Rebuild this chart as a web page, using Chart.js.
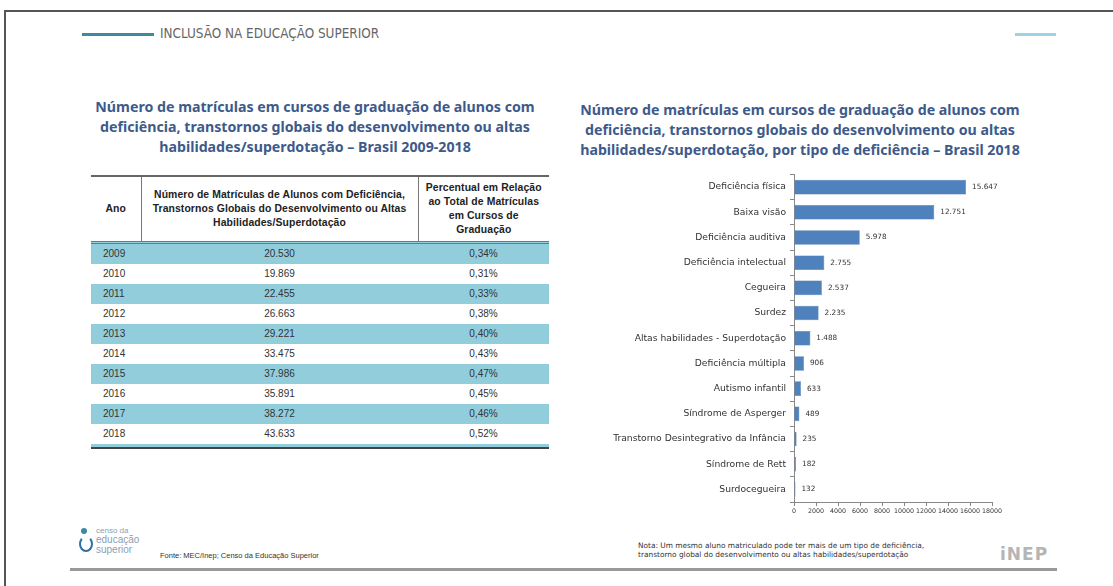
<!DOCTYPE html>
<html>
<head>
<meta charset="utf-8">
<script src="https://cdn.jsdelivr.net/npm/chart.js@4"></script>
<style>
  body { margin: 0; width: 1113px; height: 586px; background: #fff; position: relative; overflow: hidden; font-family: "Noto Sans", sans-serif; }
  .abs { position: absolute; }
  .frame-top { left: 4px; top: 10px; width: 1109px; height: 2px; background: #555; }
  .frame-left { left: 4px; top: 10px; width: 2px; height: 576px; background: #555; }
  .title { color: #3d5a8a; font-weight: 700; font-size: 14.2px; line-height: 20px; text-align: center; }
  table { border-collapse: collapse; font-family: "Liberation Sans", sans-serif; font-size: 10px; color: #333; table-layout: fixed; }
  th { font-weight: 700; font-size: 10.4px; line-height: 14px; color: #222; padding: 0 1px; letter-spacing: 0.1px; }
  td { height: 20px; padding: 0; }
  tr.alt td { background: #92cddc; }
</style>
</head>
<body>
<div class="abs frame-top"></div>
<div class="abs frame-left"></div>

<div class="abs" style="left:82px;top:33px;width:72px;height:3px;background:#3b8ca0"></div>
<div class="abs" style="left:160px;top:26px;font-family:'Liberation Sans Narrow','DejaVu Sans Condensed',sans-serif;font-size:13.4px;color:#666">INCLUSÃO NA EDUCAÇÃO SUPERIOR</div>
<div class="abs" style="left:1015px;top:33px;width:41px;height:3px;background:#9dd3e2"></div>

<div class="abs title" id="leftTitle" style="left:60px;top:97px;width:510px"></div>
<div class="abs title" id="rightTitle" style="left:560px;top:100px;width:480px"></div>

<div class="abs" style="left:91px;top:175px;width:458px">
  <table id="tbl" style="width:458px">
    <colgroup><col style="width:50px"><col style="width:277px"><col style="width:131px"></colgroup>
    <thead>
      <tr style="border-top:2px solid #666;border-bottom:3px double #777;height:66px">
        <th style="border-right:1px solid #777">Ano</th>
        <th style="border-right:1px solid #777" id="h2"></th>
        <th id="h3"></th>
      </tr>
    </thead>
    <tbody id="tbody"></tbody>
  </table>
  <div style="height:3px;background:#92cddc;margin-top:0"></div>
  <div style="height:2px;background:#444"></div>
</div>

<div class="abs" style="left:600px;top:165px;width:410px;height:355px">
  <canvas id="barChart"></canvas>
</div>

<!-- logo + footer -->
<div class="abs" style="left:79px;top:528px;width:14px;height:24px">
  <div class="abs" style="left:2px;top:0;width:6px;height:6px;border-radius:50%;background:#3b8ca0"></div>
  <div class="abs" style="left:0;top:8px;width:10px;height:12px;border:2px solid #2d6fa8;border-top-color:transparent;border-radius:50%"></div>
</div>
<div class="abs" style="left:96px;top:527px;font-size:8px;line-height:8px;color:#8aa0b4;font-family:'Liberation Sans',sans-serif">censo da<br><span style="font-size:10px;line-height:10px">educação</span><br><span style="font-size:10px;line-height:10px">superior</span></div>
<div class="abs" style="left:160px;top:551px;font-size:7.5px;color:#333;font-family:'Liberation Sans',sans-serif">Fonte: MEC/Inep; Censo da Educação Superior</div>
<div class="abs" style="left:638px;top:541px;font-size:7.4px;line-height:9px;color:#333;font-family:'DejaVu Sans',sans-serif">Nota: Um mesmo aluno matriculado pode ter mais de um tipo de deficiência,<br>transtorno global do desenvolvimento ou altas habilidades/superdotação</div>
<div class="abs" style="left:1000px;top:544px;font-size:17px;font-weight:700;color:#b5b5b5;letter-spacing:1px;font-family:'DejaVu Sans',sans-serif">iNEP</div>
<div class="abs" style="left:70px;top:568px;width:987px;height:3px;background:#999"></div>

<script>
// Titles and table header
const leftTitleLines = [
  'Número de matrículas em cursos de graduação de alunos com',
  'deficiência, transtornos globais do desenvolvimento ou altas',
  'habilidades/superdotação – Brasil 2009-2018'
];
const rightTitleLines = [
  'Número de matrículas em cursos de graduação de alunos com',
  'deficiência, transtornos globais do desenvolvimento ou altas',
  'habilidades/superdotação, por tipo de deficiência – Brasil 2018'
];
const headerMid = 'Número de Matrículas de Alunos com Deficiência,<br>Transtornos Globais do Desenvolvimento ou Altas<br>Habilidades/Superdotação';
const headerRight = 'Percentual em Relação<br>ao Total de Matrículas<br>em Cursos de<br>Graduação';

// Table data
const years = [2009, 2010, 2011, 2012, 2013, 2014, 2015, 2016, 2017, 2018];
const enrolments = ['20.530', '19.869', '22.455', '26.663', '29.221', '33.475', '37.986', '35.891', '38.272', '43.633'];
const shares = ['0,34%', '0,31%', '0,33%', '0,38%', '0,40%', '0,43%', '0,47%', '0,45%', '0,46%', '0,52%'];

// Bar chart data
const types = [
  'Deficiência física', 'Baixa visão', 'Deficiência auditiva', 'Deficiência intelectual',
  'Cegueira', 'Surdez', 'Altas habilidades - Superdotação', 'Deficiência múltipla',
  'Autismo infantil', 'Síndrome de Asperger', 'Transtorno Desintegrativo da Infância',
  'Síndrome de Rett', 'Surdocegueira'
];
const typeCounts = [15647, 12751, 5978, 2755, 2537, 2235, 1488, 906, 633, 489, 235, 182, 132];
const xTicks = [0, 2000, 4000, 6000, 8000, 10000, 12000, 14000, 16000, 18000];

document.getElementById('leftTitle').innerHTML = leftTitleLines.join('<br>');
document.getElementById('rightTitle').innerHTML = rightTitleLines.join('<br>');
document.getElementById('h2').innerHTML = headerMid;
document.getElementById('h3').innerHTML = headerRight;

const tbody = document.getElementById('tbody');
years.forEach((y, i) => {
  const tr = document.createElement('tr');
  if (i % 2 === 0) tr.className = 'alt';
  tr.innerHTML = '<td style="padding-left:12px">' + y + '</td>' +
    '<td style="text-align:center">' + enrolments[i] + '</td>' +
    '<td style="text-align:center">' + shares[i] + '</td>';
  tbody.appendChild(tr);
});

const fmt = v => v.toLocaleString('de-DE');

// draw the value next to each bar
const valueLabels = {
  id: 'valueLabels',
  afterDatasetsDraw(chart) {
    const ctx = chart.ctx;
    const meta = chart.getDatasetMeta(0);
    ctx.save();
    ctx.font = '7.3px "DejaVu Sans", sans-serif';
    ctx.fillStyle = '#333';
    ctx.textBaseline = 'middle';
    meta.data.forEach((bar, i) => {
      ctx.fillText(fmt(typeCounts[i]), bar.x + 6, bar.y);
    });
    ctx.restore();
  }
};

new Chart(document.getElementById('barChart').getContext('2d'), {
  type: 'bar',
  data: {
    labels: types,
    datasets: [{
      data: typeCounts,
      backgroundColor: '#4f81bd',
      borderColor: '#3d6ea8',
      borderWidth: 0.5,
      categoryPercentage: 0.58,
      barPercentage: 1
    }]
  },
  options: {
    indexAxis: 'y',
    responsive: true,
    maintainAspectRatio: false,
    animation: false,
    layout: { padding: { top: 5, right: 18, left: 0, bottom: 0 } },
    plugins: { legend: { display: false }, tooltip: { enabled: false } },
    scales: {
      x: {
        min: 0,
        max: 18000,
        afterBuildTicks: axis => { axis.ticks = xTicks.map(v => ({ value: v })); },
        afterFit: axis => { axis.height = 18; },
        grid: { drawOnChartArea: false, drawTicks: true, tickLength: 4, color: '#888' },
        border: { color: '#888' },
        ticks: {
          font: { size: 6.3, family: 'DejaVu Sans' }, color: '#333', padding: 2, maxRotation: 0, autoSkip: false,
          callback: v => String(v)
        }
      },
      y: {
        afterFit: axis => { axis.width = 194; },
        grid: { drawOnChartArea: false, drawTicks: true, tickLength: 4, color: '#888', offset: true },
        border: { color: '#888' },
        ticks: { font: { size: 9.2, family: 'DejaVu Sans' }, color: '#333', padding: 4, autoSkip: false }
      }
    }
  },
  plugins: [valueLabels]
});
</script>
</body>
</html>
